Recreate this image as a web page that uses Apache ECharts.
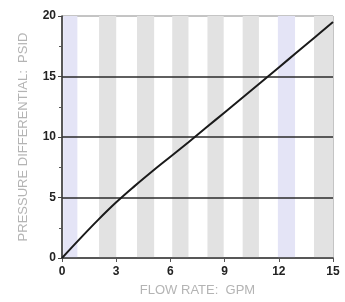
<!DOCTYPE html>
<html>
<head>
<meta charset="utf-8">
<script src="https://cdn.jsdelivr.net/npm/echarts@6/dist/echarts.min.js"></script>
<style>
  html, body { margin: 0; padding: 0; background: #fff; }
  #chart { width: 345px; height: 302px; }
</style>
</head>
<body>
<div id="chart"></div>
<script>
  // flow rate (GPM) vs pressure differential (PSID)
  var flowRate = [0, 1, 2, 3, 4, 5, 6, 7, 8, 9, 10, 11, 12, 13, 14, 15]
  var pressure = [0, 1.6, 3.15, 4.6, 5.92, 7.17, 8.37, 9.57, 10.8, 12.03, 13.26, 14.5, 15.75, 17, 18.25, 19.5]
  // shaded vertical bands behind the curve [from, to]
  var bandStart = [0.07, 2.05, 4.15, 6.1, 8.05, 10.0, 11.95, 13.95]
  var bandEnd = [0.85, 3.0, 5.1, 7.0, 8.95, 10.9, 12.9, 15]
  var bandTint = [1, 0, 0, 0, 0, 0, 1, 0]

  var chart = echarts.init(document.getElementById('chart'))

  var curve = flowRate.map(function (x, i) { return [x, pressure[i]] })
  var bands = bandStart.map(function (s, i) {
    return [{
      xAxis: s,
      itemStyle: { color: bandTint[i] ? '#e4e4f6' : '#e2e2e2' }
    }, { xAxis: bandEnd[i] }]
  })

  var tickFont = {
    color: '#222',
    fontWeight: 'bold',
    fontSize: 12,
    fontFamily: 'Liberation Sans'
  }
  var nameFont = {
    color: '#b4b4b4',
    fontSize: 13,
    fontFamily: 'Liberation Sans'
  }

  chart.setOption({
    animation: false,
    grid: {
      left: 62, right: 12, top: 16, bottom: 44,
      show: true,
      borderColor: '#8a8a8a',
      borderWidth: 1
    },
    xAxis: {
      type: 'value',
      z: 3,
      min: 0, max: 15, interval: 3,
      name: 'FLOW RATE:  GPM',
      nameLocation: 'middle',
      nameGap: 26,
      nameTextStyle: nameFont,
      axisLine: { lineStyle: { color: '#333', width: 1.5 } },
      axisTick: { show: true, length: 4, lineStyle: { color: '#555' } },
      axisLabel: Object.assign({ margin: 8 }, tickFont),
      splitLine: { show: false }
    },
    yAxis: {
      type: 'value',
      z: 3,
      min: 0, max: 20, interval: 5,
      name: 'PRESSURE DIFFERENTIAL:  PSID',
      nameLocation: 'middle',
      nameRotate: 90,
      nameGap: 32,
      nameTextStyle: nameFont,
      axisLine: { show: true, lineStyle: { color: '#333', width: 1.5 } },
      axisTick: { show: true, length: 4, lineStyle: { color: '#444' } },
      minorTick: { show: true, splitNumber: 2, length: 3, lineStyle: { color: '#555' } },
      axisLabel: Object.assign({ margin: 6 }, tickFont),
      splitLine: {
        show: true,
        showMinLine: false,
        showMaxLine: false,
        lineStyle: { color: '#2a2a2a', width: 1.5 }
      }
    },
    series: [{
      type: 'line',
      data: [],
      z: 1,
      silent: true,
      markArea: { silent: true, data: bands }
    }, {
      type: 'line',
      data: curve,
      smooth: 0.4,
      symbol: 'none',
      z: 5,
      lineStyle: { color: '#1a1a1a', width: 2 }
    }]
  })
</script>
</body>
</html>
